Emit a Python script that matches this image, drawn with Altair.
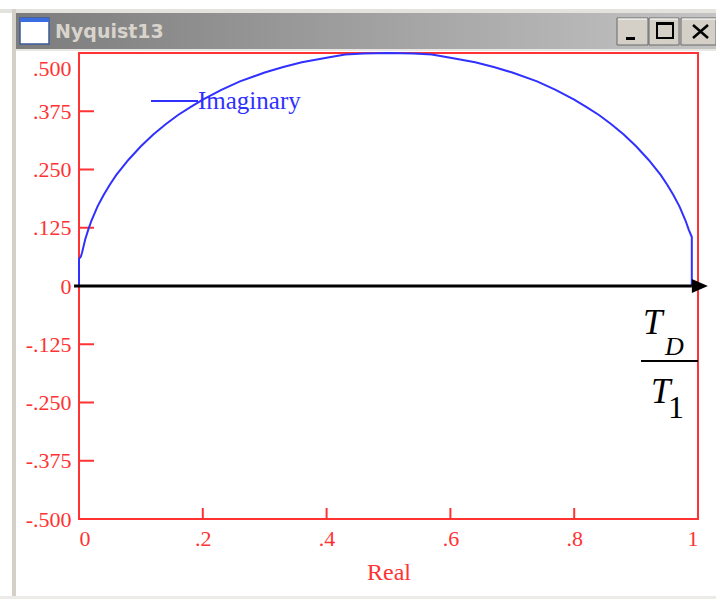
import altair as alt
import pandas as pd

# Nyquist locus (real part, imaginary part), read point by point
curve_re = [0.0, 0.0, 0.003, 0.005, 0.01, 0.015, 0.02, 0.03, 0.04, 0.05, 0.06, 0.08,
            0.1, 0.12, 0.14, 0.16, 0.18, 0.2, 0.23, 0.26, 0.3, 0.33, 0.36, 0.4, 0.43,
            0.46, 0.5, 0.54, 0.57, 0.6, 0.64, 0.67, 0.7, 0.74, 0.77, 0.8, 0.82, 0.84,
            0.86, 0.88, 0.9, 0.92, 0.94, 0.95, 0.96, 0.97, 0.98, 0.985, 0.99, 0.99]
curve_im = [0.0, 0.058, 0.063, 0.072, 0.1, 0.121, 0.14, 0.171, 0.196, 0.218, 0.238,
            0.271, 0.3, 0.325, 0.347, 0.367, 0.384, 0.4, 0.421, 0.439, 0.458, 0.47,
            0.48, 0.49, 0.497, 0.499, 0.5, 0.499, 0.497, 0.49, 0.48, 0.47, 0.458,
            0.439, 0.421, 0.4, 0.384, 0.367, 0.347, 0.325, 0.3, 0.271, 0.238, 0.218,
            0.196, 0.171, 0.14, 0.121, 0.105, 0.0]

# axis ticks and their printed labels
x_ticks = [0, 0.2, 0.4, 0.6, 0.8, 1]
x_tick_labels = ["0", ".2", ".4", ".6", ".8", "1"]
y_ticks = [-0.5, -0.375, -0.25, -0.125, 0, 0.125, 0.25, 0.375, 0.5]
y_tick_labels = ["-.500", "-.375", "-.250", "-.125", "0", ".125", ".250", ".375", ".500"]

# real-axis arrow: start, end of shaft, tip centre
arrow_re = [-0.008, 0.99, 1.003]

W, H = 619, 466          # plot area
OX, OY = 79, 53          # plot origin inside the 716x599 page
RED = "#ff3333"
BLUE = "#3030ff"
LABEL_FONT = "Liberation Serif"

curve_df = pd.DataFrame({"re": curve_re, "im": curve_im, "i": range(len(curve_re))})
one = pd.DataFrame({"k": [0]})


def label_expr(values, labels):
    parts = [f"datum.value == {v} ? '{s}'" for v, s in zip(values, labels)]
    return " : ".join(parts) + " : ''"


x_scale = alt.Scale(domain=[0, 1], nice=False, zero=False)
y_scale = alt.Scale(domain=[-0.5, 0.5], nice=False, zero=False)

x_axis = alt.Axis(values=x_ticks, labelExpr=label_expr(x_ticks, x_tick_labels),
                  ticks=False, domain=False, grid=False, labelColor=RED,
                  labelFont=LABEL_FONT, labelFontSize=22, labelPadding=9,
                  title="Real", titleColor=RED, titleFont=LABEL_FONT,
                  titleFontSize=24, titleFontWeight="normal", titlePadding=11)
y_axis = alt.Axis(values=y_ticks, labelExpr=label_expr(y_ticks, y_tick_labels),
                  ticks=False, domain=False, grid=False, labelColor=RED,
                  labelFont=LABEL_FONT, labelFontSize=22, labelPadding=8,
                  labelFlush=False,
                  labelOffset={"condition": {"test": "datum.value == 0.5", "value": 15},
                               "value": 0},
                  title=None)

# main curve with the axes
curve = alt.Chart(curve_df).mark_line(color=BLUE, strokeWidth=2, clip=False).encode(
    x=alt.X("re:Q", scale=x_scale, axis=x_axis),
    y=alt.Y("im:Q", scale=y_scale, axis=y_axis),
    order="i:Q",
)

# inward tick marks
ytick_df = pd.DataFrame({"v": y_ticks})
ytick_rules = alt.Chart(ytick_df).mark_rule(color=RED, strokeWidth=2).encode(
    x=alt.value(0), x2=alt.value(15), y=alt.Y("v:Q", scale=y_scale))
xtick_df = pd.DataFrame({"v": x_ticks[1:-1]})
xtick_rules = alt.Chart(xtick_df).mark_rule(color=RED, strokeWidth=2).encode(
    x=alt.X("v:Q", scale=x_scale), y=alt.value(H - 11), y2=alt.value(H))

# black arrow along the real axis
arrow_df = pd.DataFrame({"a": [arrow_re[0]], "b": [arrow_re[1]], "tip": [arrow_re[2]], "y": [0.0]})
shaft = alt.Chart(arrow_df).mark_rule(color="black", strokeWidth=3, clip=False).encode(
    x=alt.X("a:Q", scale=x_scale), x2="b:Q", y=alt.Y("y:Q", scale=y_scale))
head = alt.Chart(arrow_df).mark_point(
    shape="M-1,-0.875L1,0L-1,0.875Z", filled=True, color="black", opacity=1,
    size=256, clip=False).encode(
    x=alt.X("tip:Q", scale=x_scale), y=alt.Y("y:Q", scale=y_scale))


def rect(x1, y1, x2, y2, **kw):
    return alt.Chart(one).mark_rect(**kw).encode(
        x=alt.value(x1 - OX), x2=alt.value(x2 - OX),
        y=alt.value(y1 - OY), y2=alt.value(y2 - OY))


def line(x1, y1, x2, y2, **kw):
    return alt.Chart(one).mark_rule(**kw).encode(
        x=alt.value(x1 - OX), x2=alt.value(x2 - OX),
        y=alt.value(y1 - OY), y2=alt.value(y2 - OY))


def text(s, x, y, **kw):
    return alt.Chart(one).mark_text(text=s, **kw).encode(
        x=alt.value(x - OX), y=alt.value(y - OY))


# legend entry
legend = [
    line(151, 101, 198, 101, color=BLUE, strokeWidth=2),
    text("Imaginary", 198, 101, color=BLUE, font=LABEL_FONT, fontSize=25,
         align="left", baseline="middle"),
]

# T_D / T_1 annotation
fraction = [
    text("T", 643, 334, font="Liberation Serif", fontStyle="italic", fontSize=35,
         align="left", baseline="alphabetic", color="black"),
    text("D", 665, 355, font="Liberation Serif", fontStyle="italic", fontSize=26,
         align="left", baseline="alphabetic", color="black"),
    line(641, 361, 698, 361, color="black", strokeWidth=2),
    text("T", 651, 403, font="Liberation Serif", fontStyle="italic", fontSize=35,
         align="left", baseline="alphabetic", color="black"),
    text("1", 668, 418, font="Liberation Serif", fontSize=32,
         align="left", baseline="alphabetic", color="black"),
]

# window frame and title bar
title_grad = alt.Gradient(
    gradient="linear",
    stops=[alt.GradientStop(color="#7c7c7c", offset=0),
           alt.GradientStop(color="#c4c4c4", offset=1)],
    x1=0, x2=1, y1=0, y2=0)

chrome = [
    rect(0, 9, 716, 13, color="#e4e2dc"),
    rect(12, 9, 16, 599, color="#d4d0c8"),
    rect(16, 13, 716, 49, color=title_grad),
    rect(16, 49, 716, 51, color="#e8e6e2"),
    rect(0, 596, 716, 599, color="#ecebe8"),
    # icon
    rect(20, 18, 49, 44, color="white", stroke="#3b5c9a", strokeWidth=1.5),
    rect(20, 18, 49, 22, color="#3a6ee0"),
    text("Nyquist13", 55, 32, font="DejaVu Sans", fontWeight="bold", fontSize=19,
         color="#d8d4cc", align="left", baseline="middle"),
    # buttons
    rect(617, 18, 648, 45, color="#d4d0c8", stroke="#6a6a6a", strokeWidth=1),
    rect(649, 18, 679, 45, color="#d4d0c8", stroke="#6a6a6a", strokeWidth=1),
    rect(681, 18, 716, 45, color="#d4d0c8", stroke="#6a6a6a", strokeWidth=1),
    line(618, 19, 647, 19, color="white", strokeWidth=1),
    line(650, 19, 678, 19, color="white", strokeWidth=1),
    line(682, 19, 716, 19, color="white", strokeWidth=1),
    rect(626, 37, 635, 40, color="black"),
    rect(657, 23, 673, 38, color="#d4d0c8", stroke="black", strokeWidth=2),
    rect(657, 22, 673, 25, color="black"),
    line(693, 25, 708, 38, color="black", strokeWidth=2.5),
    line(708, 25, 693, 38, color="black", strokeWidth=2.5),
]

chart = alt.layer(
    *chrome, ytick_rules, xtick_rules, curve, shaft, head, *legend, *fraction
).properties(
    width=W, height=H,
    autosize=alt.AutoSizeParams(type="none"),
    padding={"left": OX, "top": OY, "right": 716 - OX - W, "bottom": 599 - OY - H},
    background="white",
).configure_view(stroke=RED, strokeWidth=2)

chart.save("out.html", embed_options={"renderer": "svg", "actions": False})
